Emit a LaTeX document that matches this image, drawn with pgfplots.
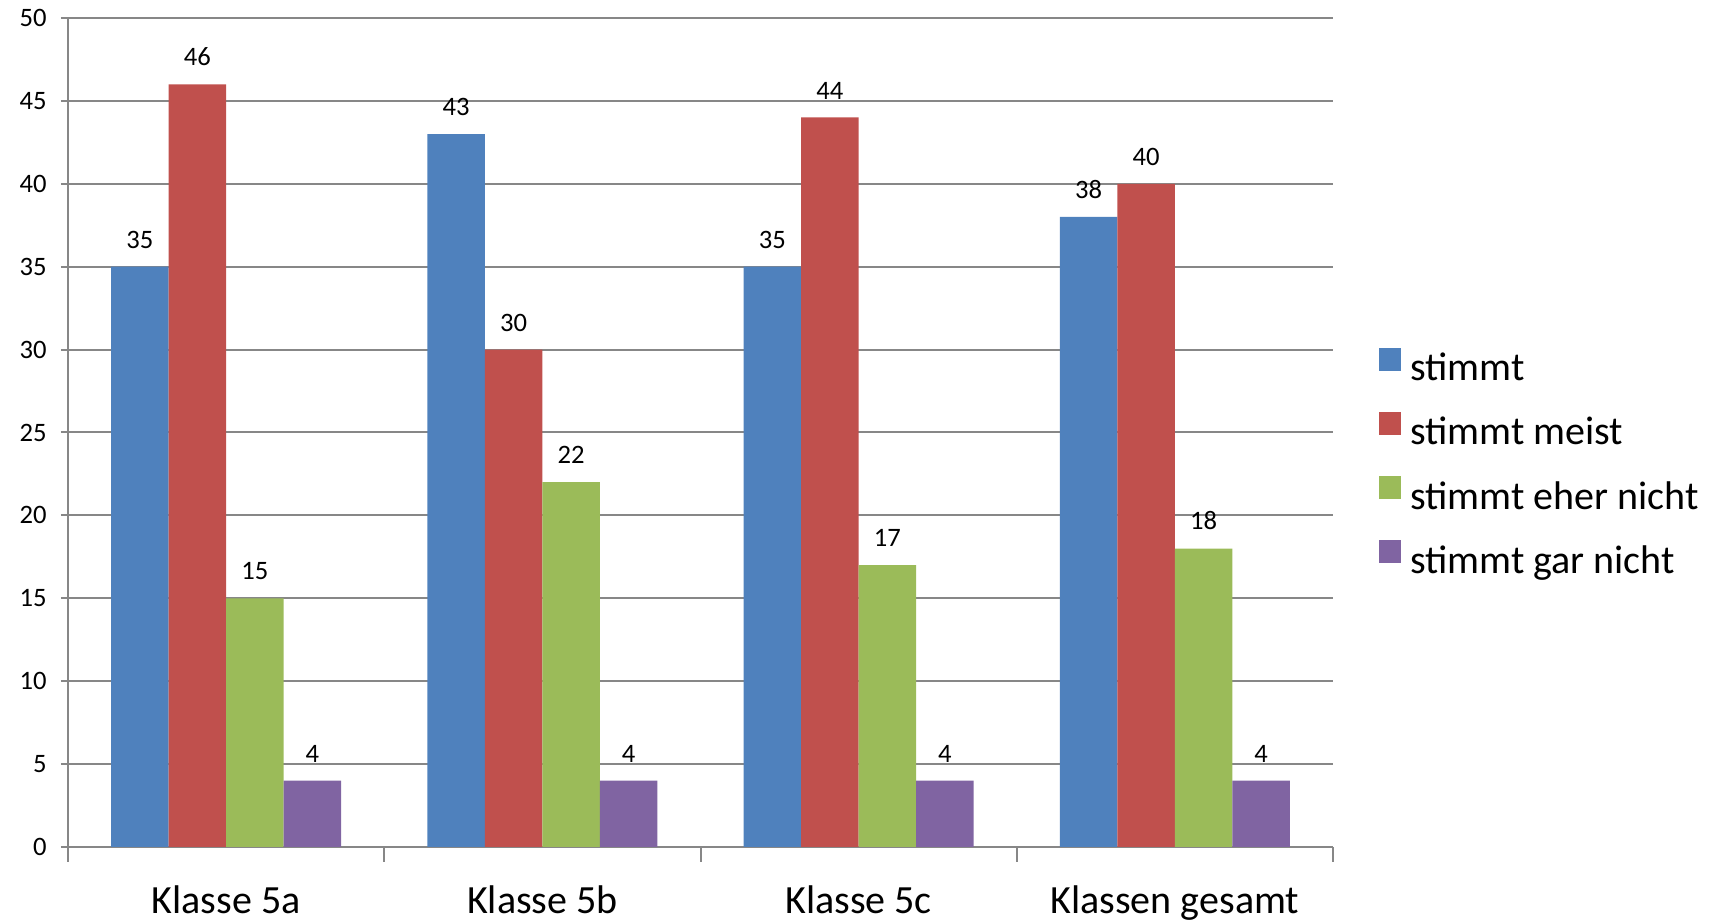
\documentclass[border=0pt]{standalone}
\usepackage{fontspec}
\setmainfont{Carlito}
\usepackage{pgfplots}
\pgfplotsset{compat=1.18}
\definecolor{sblue}{HTML}{4F81BD}
\definecolor{sred}{HTML}{C0504D}
\definecolor{sgreen}{HTML}{9BBB59}
\definecolor{spurple}{HTML}{8064A2}
\definecolor{gridc}{HTML}{878787}
\begin{document}
\begin{tikzpicture}
\useasboundingbox (-34pt,-36.5pt) rectangle (822.5pt,423.5pt);
\begin{axis}[
  at={(0,0)}, anchor=south west,
  scale only axis, width=632.5pt, height=414.5pt,
  xmin=-0.5, xmax=3.5, ymin=0, ymax=50,
  ytick={0,5,...,50},
  ymajorgrids,
  grid style={gridc, line width=1pt},
  axis x line*=bottom, axis y line*=left,
  axis line style={gridc, line width=1pt},
  tick style={gridc, line width=1pt},
  tick align=outside, major tick length=3.5pt,
  xtick style={/pgfplots/major tick length=7.5pt},
  xtick={-0.5,0.5,1.5,2.5,3.5},
  x tick label as interval,
  xticklabels={Klasse 5a, Klasse 5b, Klasse 5c, Klassen gesamt},
  xticklabel style={font=\fontsize{20}{24}\selectfont, anchor=north, inner sep=0pt, yshift=-15.5pt},
  yticklabel style={font=\fontsize{13.3}{15}\selectfont, anchor=east, inner sep=0pt, xshift=-7pt},
  /pgf/number format/assume math mode=true,
  ybar,
  nodes near coords,
  every node near coord/.append style={font=\fontsize{13.3}{15}\selectfont, anchor=south, inner sep=0pt, yshift=9pt},
  legend style={draw=none, fill=none, inner sep=0pt, outer sep=0pt,
    at={(1.0364,0.4614)}, anchor=west,
    font=\fontsize{20}{24}\selectfont, row sep=11.6pt,
    nodes={inner xsep=4.5pt, inner ysep=0pt, text height=14pt, text depth=4pt}},
  legend cell align=left,
  legend image code/.code={\fill[#1] (0pt,0pt) rectangle (11pt,11.5pt);},
]
\addplot[fill=sblue, draw=none, bar width=0.182, bar shift=-0.273] coordinates {(0,35) (1,43) (2,35) (3,38)};
\addplot[fill=sred, draw=none, bar width=0.182, bar shift=-0.091] coordinates {(0,46) (1,30) (2,44) (3,40)};
\addplot[fill=sgreen, draw=none, bar width=0.182, bar shift=0.091] coordinates {(0,15) (1,22) (2,17) (3,18)};
\addplot[fill=spurple, draw=none, bar width=0.182, bar shift=0.273] coordinates {(0,4) (1,4) (2,4) (3,4)};
\legend{stimmt, stimmt meist, stimmt eher nicht, stimmt gar nicht}
\end{axis}
\end{tikzpicture}
\end{document}
